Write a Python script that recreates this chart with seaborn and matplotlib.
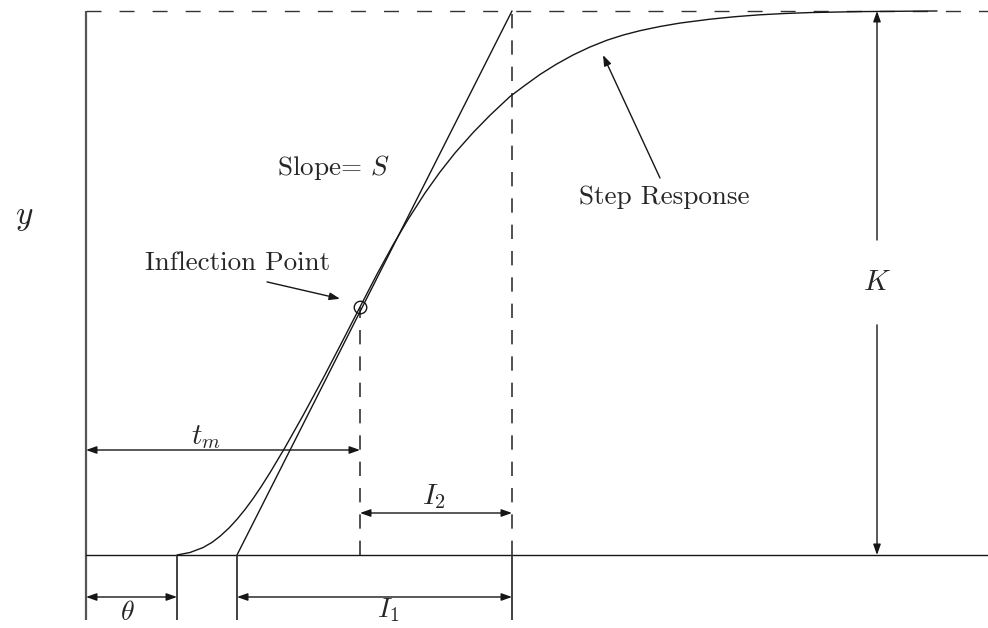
import matplotlib
matplotlib.use("Agg")
import matplotlib.pyplot as plt
import seaborn as sns

# Step response of the process: time and output as a fraction of the gain K
resp_t = [0.91, 1.04, 1.17, 1.26, 1.34, 1.43, 1.51, 1.59, 1.67, 1.75, 1.84, 1.99,
          2.17, 2.37, 2.56, 2.74, 2.91, 3.07, 3.22, 3.39, 3.54, 3.69, 3.87, 4.04,
          4.24, 4.39, 4.54, 4.70, 4.87, 5.04, 5.21, 5.37, 5.54, 5.74, 5.94, 6.24,
          6.49, 6.74, 6.99, 7.24, 7.74, 8.51]
resp_y = [0.0000, 0.0046, 0.0136, 0.0232, 0.0344, 0.0496, 0.0656, 0.0836, 0.1035,
          0.1252, 0.1513, 0.1976, 0.2564, 0.3244, 0.3915, 0.4559, 0.5162, 0.5699,
          0.6167, 0.6654, 0.7040, 0.7390, 0.7763, 0.8083, 0.8428, 0.8634, 0.8833,
          0.9018, 0.9191, 0.9338, 0.9463, 0.9557, 0.9638, 0.9715, 0.9778, 0.9849,
          0.9895, 0.9930, 0.9954, 0.9971, 0.9989, 1.0000]

# Characteristic times and levels
theta = 0.91      # dead time
t_foot = 1.51     # tangent crosses zero
t_m = 2.74        # time of the inflection point
y_m = 0.456       # output at the inflection point
t_top = 4.26      # tangent reaches K
K = 1.0
t_right = 9.02
k_x = 7.91

sns.set_theme(style="white")
plt.rcParams["font.family"] = ["cmr10", "DejaVu Sans"]
plt.rcParams["mathtext.fontset"] = "cm"
plt.rcParams["axes.unicode_minus"] = False

fig = plt.figure(figsize=(9.88, 6.28), dpi=100)
ax = fig.add_axes([0, 0, 1, 1])
ax.set_xlim(-0.86, t_right)
ax.set_ylim(-0.1342, 1.0202)
ax.axis("off")

ink = "#161616"
grey = "#555555"
lo = -0.119   # lower end of the reference ticks under the baseline

# frame: vertical axis, baseline and final value
ax.plot([0, 0], [lo, K], color=grey, lw=1.6, solid_capstyle="butt")
ax.plot([0, t_right], [0, 0], color=ink, lw=1.0)
ax.plot([0, t_right], [K, K], color="#333333", lw=1.0, dashes=(10.8, 13))

# reference ticks under the baseline
for xv in (theta, t_foot, t_top):
    ax.plot([xv, xv], [lo, 0], color="#333333", lw=1.3, solid_capstyle="butt")

# dashed guides
ax.plot([t_top, t_top], [0, K], color="#333333", lw=1.2, dashes=(8.6, 7.2))
ax.plot([t_m, t_m], [0, y_m], color="#333333", lw=1.2, dashes=(8.6, 7.2))

# tangent at the inflection point
ax.plot([t_foot, t_top], [0, K], color=ink, lw=1.0)

# step response
sns.lineplot(x=resp_t, y=resp_y, sort=False, estimator=None, color=ink, lw=1.0, ax=ax)

# inflection marker
ax.plot([t_m], [y_m], marker="o", ms=9, mfc="none", mec=ink, mew=1.0)

arrow_kw = dict(color=ink, lw=1.0, shrinkA=0, shrinkB=0, mutation_scale=14)


def dim(x0, y0, x1, y1):
    ax.annotate("", xy=(x1, y1), xytext=(x0, y0),
                arrowprops=dict(arrowstyle="<|-|>,head_length=0.45,head_width=0.16", **arrow_kw))


def one_way(x0, y0, x1, y1):
    ax.annotate("", xy=(x1, y1), xytext=(x0, y0),
                arrowprops=dict(arrowstyle="-|>,head_length=0.45,head_width=0.16", **arrow_kw))


dim(0, 0.193, t_m, 0.193)            # t_m
dim(t_m, 0.0772, t_top, 0.0772)      # I_2
dim(0, -0.0772, theta, -0.0772)      # theta
dim(t_foot, -0.0772, t_top, -0.0772)  # I_1
one_way(k_x, 0.579, k_x, K)          # K, upper half
one_way(k_x, 0.423, k_x, 0)          # K, lower half

# pointers to the curve
one_way(1.81, 0.502, 2.54, 0.471)
one_way(5.74, 0.693, 5.17, 0.919)

fs = 19.5
ax.text(-0.62, 0.619, r"$y$", fontsize=24, ha="center", va="center")
ax.text(2.47, 0.713, r"Slope= $S$", fontsize=fs, ha="center", va="center")
ax.text(1.515, 0.537, "Inflection Point", fontsize=fs, ha="center", va="center")
ax.text(5.78, 0.658, "Step Response", fontsize=fs, ha="center", va="center")
ax.text(k_x, 0.500, r"$K$", fontsize=21, ha="center", va="center")
ax.text(1.20, 0.217, r"$t_m$", fontsize=21, ha="center", va="center")
ax.text(3.48, 0.108, r"$I_2$", fontsize=21, ha="center", va="center")
ax.text(0.41, -0.107, r"$\theta$", fontsize=20, ha="center", va="center")
ax.text(3.02, -0.102, r"$I_1$", fontsize=20, ha="center", va="center")

fig.savefig("out.png", dpi=100, facecolor="white")
